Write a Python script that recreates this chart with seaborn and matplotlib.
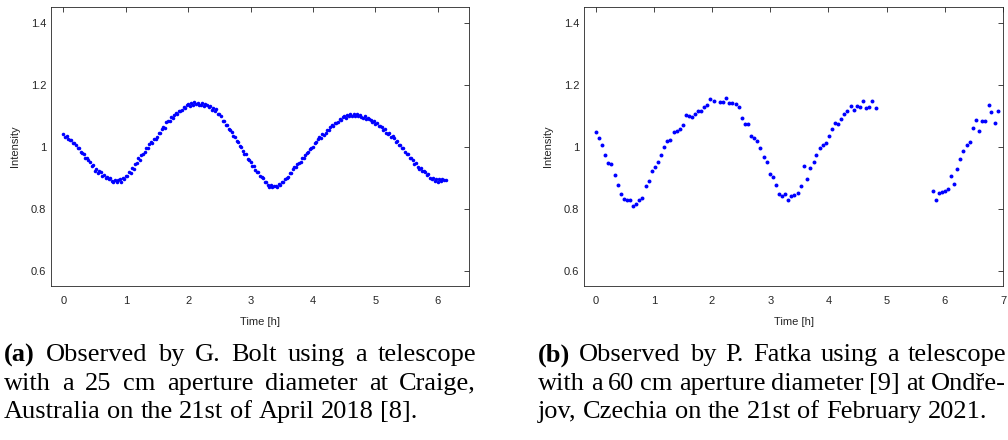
import matplotlib
matplotlib.use("Agg")
import numpy as np
import pandas as pd
import seaborn as sns
import matplotlib.pyplot as plt
from matplotlib.ticker import FuncFormatter

# (a) G. Bolt, Craige -- time [h] and relative intensity
bolt_time = [
    0.000, 0.025, 0.050, 0.075, 0.100, 0.125, 0.150, 0.175,
    0.200, 0.225, 0.250, 0.275, 0.300, 0.325, 0.350, 0.375,
    0.400, 0.425, 0.450, 0.475, 0.500, 0.525, 0.550, 0.575,
    0.600, 0.625, 0.650, 0.675, 0.700, 0.725, 0.750, 0.775,
    0.800, 0.825, 0.850, 0.875, 0.900, 0.925, 0.950, 0.975,
    1.000, 1.025, 1.050, 1.075, 1.100, 1.125, 1.150, 1.175,
    1.200, 1.225, 1.250, 1.275, 1.300, 1.325, 1.350, 1.375,
    1.400, 1.425, 1.450, 1.475, 1.500, 1.525, 1.550, 1.575,
    1.600, 1.625, 1.650, 1.675, 1.700, 1.725, 1.750, 1.775,
    1.800, 1.825, 1.850, 1.875, 1.900, 1.925, 1.950, 1.975,
    2.000, 2.025, 2.050, 2.075, 2.100, 2.125, 2.150, 2.175,
    2.200, 2.225, 2.250, 2.275, 2.300, 2.325, 2.350, 2.375,
    2.400, 2.425, 2.450, 2.475, 2.500, 2.525, 2.550, 2.575,
    2.600, 2.625, 2.650, 2.675, 2.700, 2.725, 2.750, 2.775,
    2.800, 2.825, 2.850, 2.875, 2.900, 2.925, 2.950, 2.975,
    3.000, 3.025, 3.050, 3.075, 3.100, 3.125, 3.150, 3.175,
    3.200, 3.225, 3.250, 3.275, 3.300, 3.325, 3.350, 3.375,
    3.400, 3.425, 3.450, 3.475, 3.500, 3.525, 3.550, 3.575,
    3.600, 3.625, 3.650, 3.675, 3.700, 3.725, 3.750, 3.775,
    3.800, 3.825, 3.850, 3.875, 3.900, 3.925, 3.950, 3.975,
    4.000, 4.025, 4.050, 4.075, 4.100, 4.125, 4.150, 4.175,
    4.200, 4.225, 4.250, 4.275, 4.300, 4.325, 4.350, 4.375,
    4.400, 4.425, 4.450, 4.475, 4.500, 4.525, 4.550, 4.575,
    4.600, 4.625, 4.650, 4.675, 4.700, 4.725, 4.750, 4.775,
    4.800, 4.825, 4.850, 4.875, 4.900, 4.925, 4.950, 4.975,
    5.000, 5.025, 5.050, 5.075, 5.100, 5.125, 5.150, 5.175,
    5.200, 5.225, 5.250, 5.275, 5.300, 5.325, 5.350, 5.375,
    5.400, 5.425, 5.450, 5.475, 5.500, 5.525, 5.550, 5.575,
    5.600, 5.625, 5.650, 5.675, 5.700, 5.725, 5.750, 5.775,
    5.800, 5.825, 5.850, 5.875, 5.900, 5.925, 5.950, 5.975,
    6.000, 6.025, 6.050, 6.075, 6.100, 6.125,
]
bolt_intensity = [
    1.041, 1.030, 1.034, 1.024, 1.021, 1.021, 1.010, 1.012,
    1.006, 0.995, 0.994, 0.982, 0.978, 0.977, 0.964, 0.963,
    0.957, 0.951, 0.937, 0.940, 0.922, 0.928, 0.916, 0.920,
    0.917, 0.905, 0.909, 0.898, 0.903, 0.894, 0.899, 0.890,
    0.886, 0.893, 0.885, 0.892, 0.894, 0.887, 0.899, 0.895,
    0.906, 0.904, 0.917, 0.915, 0.930, 0.927, 0.944, 0.948,
    0.962, 0.957, 0.974, 0.975, 0.983, 0.996, 0.995, 1.009,
    1.016, 1.010, 1.025, 1.024, 1.031, 1.045, 1.043, 1.058,
    1.064, 1.061, 1.078, 1.082, 1.083, 1.094, 1.091, 1.103,
    1.107, 1.104, 1.115, 1.113, 1.118, 1.126, 1.124, 1.133,
    1.136, 1.130, 1.140, 1.134, 1.142, 1.136, 1.141, 1.135,
    1.134, 1.140, 1.132, 1.137, 1.135, 1.127, 1.130, 1.119,
    1.123, 1.113, 1.122, 1.104, 1.106, 1.097, 1.083, 1.082,
    1.069, 1.068, 1.055, 1.054, 1.047, 1.033, 1.031, 1.017,
    1.015, 1.001, 0.999, 0.985, 0.977, 0.975, 0.960, 0.958,
    0.950, 0.937, 0.936, 0.924, 0.917, 0.917, 0.904, 0.903,
    0.897, 0.886, 0.887, 0.876, 0.870, 0.876, 0.869, 0.874,
    0.873, 0.870, 0.879, 0.876, 0.885, 0.884, 0.896, 0.897,
    0.901, 0.914, 0.915, 0.927, 0.934, 0.933, 0.945, 0.946,
    0.950, 0.962, 0.963, 0.974, 0.980, 0.981, 0.993, 0.995,
    1.000, 1.012, 1.013, 1.024, 1.030, 1.029, 1.039, 1.038,
    1.043, 1.054, 1.053, 1.064, 1.069, 1.067, 1.077, 1.076,
    1.079, 1.088, 1.086, 1.095, 1.098, 1.093, 1.102, 1.097,
    1.106, 1.099, 1.104, 1.098, 1.104, 1.097, 1.101, 1.094,
    1.093, 1.098, 1.089, 1.092, 1.090, 1.085, 1.079, 1.082,
    1.073, 1.075, 1.065, 1.067, 1.063, 1.053, 1.055, 1.045,
    1.041, 1.042, 1.032, 1.033, 1.028, 1.016, 1.017, 1.005,
    1.005, 0.994, 0.994, 0.983, 0.977, 0.976, 0.964, 0.963,
    0.956, 0.945, 0.946, 0.934, 0.929, 0.931, 0.920, 0.922,
    0.918, 0.908, 0.910, 0.900, 0.896, 0.899, 0.890, 0.894,
    0.886, 0.894, 0.888, 0.895, 0.893, 0.891,
]

# (b) P. Fatka, Ondrejov
fatka_time = [
    0.000, 0.052, 0.109, 0.167, 0.219, 0.270, 0.328, 0.380, 0.431, 0.483,
    0.535, 0.587, 0.644, 0.696, 0.753, 0.805, 0.857, 0.909, 0.966, 1.018,
    1.070, 1.127, 1.179, 1.231, 1.282, 1.340, 1.392, 1.443, 1.495, 1.547,
    1.604, 1.656, 1.708, 1.760, 1.817, 1.869, 1.921, 1.972, 2.030, 2.133,
    2.191, 2.243, 2.294, 2.346, 2.404, 2.455, 2.507, 2.559, 2.616, 2.668,
    2.720, 2.772, 2.829, 2.887, 2.939, 2.990, 3.042, 3.099, 3.151, 3.209,
    3.260, 3.312, 3.364, 3.416, 3.473, 3.525, 3.583, 3.634, 3.686, 3.744,
    3.795, 3.847, 3.899, 3.956, 4.008, 4.060, 4.111, 4.169, 4.221, 4.273,
    4.324, 4.382, 4.433, 4.485, 4.543, 4.595, 4.646, 4.704, 4.756, 4.813,
    5.791, 5.842, 5.894, 5.952, 6.003, 6.055, 6.107, 6.164, 6.216, 6.268,
    6.319, 6.377, 6.429, 6.480, 6.532, 6.590, 6.641, 6.693, 6.751, 6.802,
    6.854, 6.911,
]
fatka_intensity = [
    1.047, 1.027, 1.006, 0.972, 0.947, 0.942, 0.908, 0.877, 0.847, 0.831,
    0.828, 0.828, 0.809, 0.814, 0.828, 0.833, 0.873, 0.888, 0.922, 0.934,
    0.951, 0.973, 1.000, 1.017, 1.022, 1.046, 1.049, 1.057, 1.070, 1.103,
    1.097, 1.096, 1.105, 1.114, 1.115, 1.126, 1.135, 1.154, 1.148, 1.144,
    1.144, 1.157, 1.140, 1.139, 1.138, 1.126, 1.091, 1.072, 1.072, 1.035,
    1.029, 1.019, 0.994, 0.965, 0.949, 0.912, 0.901, 0.877, 0.848, 0.841,
    0.846, 0.828, 0.839, 0.845, 0.851, 0.874, 0.937, 0.894, 0.930, 0.951,
    0.973, 0.994, 1.004, 1.010, 1.034, 1.055, 1.076, 1.072, 1.089, 1.104,
    1.115, 1.131, 1.117, 1.130, 1.129, 1.147, 1.125, 1.129, 1.148, 1.125,
    0.858, 0.828, 0.849, 0.854, 0.858, 0.862, 0.906, 0.880, 0.929, 0.959,
    0.984, 1.006, 1.014, 1.061, 1.086, 1.049, 1.082, 1.082, 1.134, 1.112,
    1.075, 1.116,
]

y_ticks = [0.6, 0.8, 1.0, 1.2, 1.4]

caption_a = ["(a) Observed by G. Bolt using a telescope",
             "with a 25 cm aperture diameter at Craige,",
             "Australia on the 21st of April 2018 [8]."]
caption_b = ["(b) Observed by P. Fatka using a telescope",
             "with a 60 cm aperture diameter [9] at Ondře-",
             "jov, Czechia on the 21st of February 2021."]

sns.set_theme(style="white")
plt.rcParams['font.family'] = ['Liberation Sans', 'DejaVu Sans']

W, H = 1008, 440
fig = plt.figure(figsize=(W / 100, H / 100), dpi=100)
fig.patch.set_facecolor('white')

ink = '#262626'


def px_axes(x0, y0, x1, y1):
    # pixel box (top-left origin) -> figure fraction
    return fig.add_axes([x0 / W, 1 - y1 / H, (x1 - x0) / W, (y1 - y0) / H])


def panel(ax, t, v, xmax, size):
    df = pd.DataFrame({'Time [h]': t, 'Intensity': v})
    sns.scatterplot(data=df, x='Time [h]', y='Intensity', ax=ax, color='#0000ff',
                    s=size, linewidth=0, marker='o')
    ax.set_xlim(-0.2, xmax)
    ax.set_ylim(0.55, 1.45)
    ax.set_xticks(range(0, int(xmax) + 1))
    ax.set_yticks(y_ticks)
    ax.yaxis.set_major_formatter(FuncFormatter(lambda val, pos: f"{val:g}"))
    ax.tick_params(direction='in', top=True, right=True, length=3.5, width=0.6,
                   labelsize=8, colors=ink)
    ax.tick_params(axis='x', pad=7)
    ax.tick_params(axis='y', pad=3.5)
    for sp in ax.spines.values():
        sp.set_color(ink)
        sp.set_linewidth(0.6)
    ax.set_xlabel('Time [h]', fontsize=8, color=ink)
    ax.set_ylabel('Intensity', fontsize=8, color=ink)
    ax.yaxis.set_label_coords(-0.075, 0.5)
    ax.xaxis.set_label_coords(0.5, -0.11)


ax1 = px_axes(51, 7, 469, 286)
panel(ax1, bolt_time, bolt_intensity, 6.5, 6.5)
ax2 = px_axes(584, 7, 1003, 286)
panel(ax2, fatka_time, fatka_intensity, 7, 8)

# captions, justified like the LaTeX source
renderer = fig.canvas.get_renderer()
cap_font = ['Liberation Serif', 'DejaVu Serif']
cap_size = 19


def caption(lines, x0, x1, y_first, lead):
    for i, line in enumerate(lines):
        words = line.split(' ')
        y = 1 - (y_first + i * lead) / H
        size = cap_size
        last = (i == len(lines) - 1)
        while True:
            texts = []
            for j, w in enumerate(words):
                bold = (i == 0 and j == 0)
                tx = fig.text(0, y, w, fontsize=size, family=cap_font,
                              fontweight='bold' if bold else 'normal',
                              color='black', va='center', ha='left')
                texts.append(tx)
            widths = [tx.get_window_extent(renderer).width for tx in texts]
            space = 0.25 * size * 100 / 72
            min_gap = 0.18 * size * 100 / 72
            need = sum(widths) + min_gap * (len(words) - 1)
            if need <= x1 - x0 + 1 or size < 12:
                break
            # condense an overfull line, as TeX would squeeze it
            for tx in texts:
                tx.remove()
            size -= 0.25
        gap = space if last else (x1 - x0 - sum(widths)) / (len(words) - 1)
        x = x0
        for tx, wd in zip(texts, widths):
            tx.set_x(x / W)
            x += wd + gap


caption(caption_a, 4, 476, 355, 28.5)
caption(caption_b, 538, 1006, 355, 28.5)

fig.savefig('out.png', dpi=100, facecolor='white')
